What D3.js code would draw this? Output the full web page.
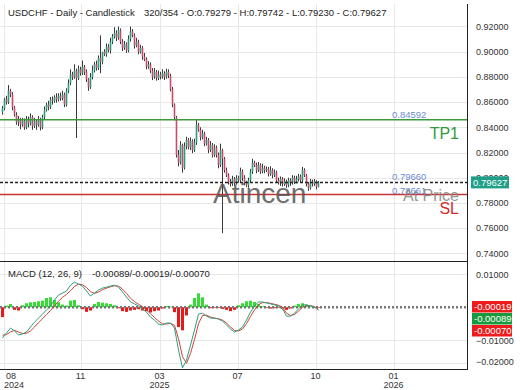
<!DOCTYPE html>
<html>
<head>
<meta charset="UTF-8" />
<title>USDCHF - Daily - Candlestick</title>
<script src="https://d3js.org/d3.v7.min.js"></script>
<style>
  body { margin: 0; background: #fff; }
  svg { display: block; font-family: "Liberation Sans", Arial, sans-serif; }
  .grid line { stroke: #e8e8e8; stroke-width: 1; }
  .yaxis text, .xaxis text { fill: #333; font-size: 9px; }
</style>
</head>
<body>
<script>
// --- dati ---
const titleLeft = "USDCHF - Daily - Candlestick";
const titleRight = "320/354 - O:0.79279 - H:0.79742 - L:0.79230 - C:0.79627";
const macdTitleLeft = "MACD (12, 26, 9)";
const macdTitleRight = "-0.00089/-0.00019/-0.00070";

// candele giornaliere (una ogni barra)
const opens = [
  .8520,.8550,.8620,.8600,.8690,.8660,.8560,.8500,.8440,.8460,
  .8420,.8450,.8400,.8470,.8430,.8480,.8410,.8450,.8420,.8460,
  .8400,.8480,.8540,.8580,.8560,.8620,.8610,.8640,.8620,.8650,
  .8630,.8660,.8580,.8690,.8750,.8820,.8800,.8850,.8790,.8860,
  .8830,.8880,.8840,.8780,.8720,.8800,.8850,.8900,.8870,.8950,
  .8920,.9000,.8980,.9040,.9010,.9080,.9120,.9150,.9110,.9170,
  .9080,.9030,.9060,.9010,.9100,.9160,.9130,.9050,.9080,.9000,
  .9030,.8960,.8940,.8880,.8900,.8850,.8800,.8840,.8790,.8820,
  .8800,.8830,.8800,.8840,.8810,.8700,.8580,.8480,.8180,.8120,
  .8260,.8080,.8250,.8300,.8240,.8290,.8220,.8280,.8420,.8380,
  .8320,.8350,.8270,.8300,.8220,.8260,.8180,.8240,.8180,.8100,
  .8220,.8150,.8060,.8020,.7970,.7950,.7990,.7960,.8000,.7980,
  .8050,.8000,.7960,.7940,.7980,.8050,.8120,.8100,.8060,.8100,
  .8050,.8080,.8060,.8070,.8030,.8060,.8020,.8040,.7980,.7960,
  .7990,.7950,.7970,.7940,.7980,.7960,.8000,.7970,.7990,.8010,
  .7980,.8060,.8020,.7950,.7920,.7970,.7950,.7970,.79279
];
const highs = [
  .8570,.8635,.8650,.8735,.8705,.8680,.8570,.8520,.8490,.8475,
  .8475,.8470,.8490,.8485,.8510,.8495,.8475,.8465,.8490,.8475,
  .8500,.8565,.8595,.8610,.8640,.8645,.8655,.8670,.8670,.8675,
  .8690,.8675,.8710,.8780,.8860,.8840,.8900,.8865,.8890,.8880,
  .8930,.8895,.8860,.8790,.8830,.8890,.8920,.8930,.8970,.9130,
  .8965,.9020,.9065,.9060,.9110,.9140,.9195,.9170,.9200,.9185,
  .9100,.9085,.9075,.9130,.9200,.9180,.9145,.9110,.9095,.9055,
  .9045,.8990,.8955,.8925,.8915,.8870,.8870,.8855,.8850,.8840,
  .8860,.8845,.8865,.8860,.8825,.8720,.8590,.8490,.8220,.8290,
  .8270,.8280,.8325,.8315,.8320,.8305,.8310,.8460,.8435,.8400,
  .8380,.8365,.8325,.8315,.8290,.8275,.8265,.8255,.8200,.8270,
  .8230,.8165,.8080,.8035,.7990,.8015,.8005,.8020,.8015,.8080,
  .8065,.8020,.7975,.8000,.8070,.8150,.8135,.8120,.8125,.8115,
  .8110,.8095,.8090,.8085,.8090,.8075,.8065,.8055,.8000,.8010,
  .8005,.7995,.7985,.8000,.7995,.8020,.8015,.8015,.8030,.8025,
  .8085,.8075,.8030,.7965,.7990,.7985,.7990,.7980,.79742
];
const lows = [
  .8500,.8535,.8580,.8585,.8640,.8535,.8485,.8420,.8410,.8385,
  .8405,.8380,.8385,.8400,.8415,.8380,.8395,.8380,.8405,.8375,
  .8385,.8460,.8525,.8535,.8545,.8580,.8595,.8595,.8605,.8610,
  .8615,.8560,.8565,.8670,.8735,.8775,.8785,.8315,.8775,.8810,
  .8815,.8815,.8760,.8690,.8705,.8780,.8835,.8850,.8855,.8830,
  .8900,.8965,.8960,.8995,.8985,.9060,.9105,.9085,.9095,.9060,
  .9005,.9015,.8990,.8995,.9080,.9115,.9025,.9035,.8980,.8985,
  .8935,.8925,.8860,.8865,.8830,.8775,.8785,.8770,.8775,.8780,
  .8785,.8775,.8785,.8790,.8685,.8560,.8455,.8160,.8090,.8105,
  .8040,.8065,.8225,.8225,.8220,.8195,.8205,.8260,.8365,.8295,
  .8305,.8250,.8255,.8195,.8205,.8160,.8165,.8160,.8075,.8085,
  .7560,.8040,.8005,.7945,.7930,.7935,.7935,.7945,.7960,.7965,
  .7975,.7940,.7925,.7920,.7965,.8030,.8085,.8035,.8045,.8030,
  .8035,.8035,.8045,.8010,.8015,.7995,.8005,.7960,.7945,.7935,
  .7930,.7935,.7920,.7925,.7935,.7945,.7950,.7955,.7970,.7965,
  .7960,.8005,.7930,.7895,.7905,.7930,.7935,.7908,.79230
];
const closes = [
  .8550,.8620,.8600,.8690,.8660,.8560,.8500,.8440,.8460,.8420,
  .8450,.8400,.8470,.8430,.8480,.8410,.8450,.8420,.8460,.8400,
  .8480,.8540,.8580,.8560,.8620,.8610,.8640,.8620,.8650,.8630,
  .8660,.8580,.8690,.8750,.8820,.8800,.8850,.8790,.8860,.8830,
  .8880,.8840,.8780,.8720,.8800,.8850,.8900,.8870,.8950,.8920,
  .9000,.8980,.9040,.9010,.9080,.9120,.9150,.9110,.9170,.9080,
  .9030,.9060,.9010,.9100,.9160,.9130,.9050,.9080,.9000,.9030,
  .8960,.8940,.8880,.8900,.8850,.8800,.8840,.8790,.8820,.8800,
  .8830,.8800,.8840,.8810,.8700,.8580,.8480,.8180,.8120,.8260,
  .8080,.8250,.8300,.8240,.8290,.8220,.8280,.8420,.8380,.8320,
  .8350,.8270,.8300,.8220,.8260,.8180,.8240,.8180,.8100,.8220,
  .8150,.8060,.8020,.7970,.7950,.7990,.7960,.8000,.7980,.8050,
  .8000,.7960,.7940,.7980,.8050,.8120,.8100,.8060,.8100,.8050,
  .8080,.8060,.8070,.8030,.8060,.8020,.8040,.7980,.7960,.7990,
  .7950,.7970,.7940,.7980,.7960,.8000,.7970,.7990,.8010,.7980,
  .8060,.8020,.7950,.7920,.7970,.7950,.7970,.79279,.79627
];

// MACD letto ogni 2 barre
const macdLine = [
  -.0093,-.0078,-.0063,-.0072,-.0084,-.0081,-.0075,-.0060,-.0045,-.0033,
  -.0021,-.0008,.0004,.0022,.0037,.0043,.0049,.0067,.0076,.0070,
  .0064,.0049,.0034,.0043,.0052,.0058,.0061,.0064,.0067,.0061,
  .0046,.0031,.0016,.0010,.0004,-.0005,-.0015,-.0030,-.0039,-.0051,
  -.0054,-.0048,-.0048,-.0063,-.0130,-.0184,-.0160,-.0115,-.0069,-.0021,
  -.0018,-.0027,-.0033,-.0033,-.0036,-.0042,-.0054,-.0066,-.0075,-.0069,
  -.0060,-.0039,-.0015,.0004,.0016,.0016,.0013,.0010,.0007,.0004,
  -.0005,-.0027,-.0027,-.0018,-.0005,.0007,.0007,.0004,.0000,-.00089
];
const signalLine = [
  -.0085,-.0083,-.0075,-.0070,-.0075,-.0080,-.0079,-.0072,-.0060,-.0047,
  -.0035,-.0022,-.0010,.0004,.0018,.0030,.0039,.0050,.0063,.0070,
  .0068,.0060,.0047,.0042,.0046,.0053,.0058,.0062,.0065,.0064,
  .0055,.0042,.0027,.0017,.0009,.0002,-.0008,-.0020,-.0031,-.0042,
  -.0050,-.0051,-.0049,-.0055,-.0095,-.0150,-.0170,-.0140,-.0098,-.0050,
  -.0025,-.0024,-.0030,-.0033,-.0035,-.0039,-.0048,-.0060,-.0070,-.0072,
  -.0066,-.0050,-.0028,-.0008,.0008,.0014,.0014,.0012,.0009,.0006,
  .0000,-.0018,-.0025,-.0022,-.0012,.0000,.0005,.0005,.0002,-.00070
];
const histValues = [
  -.0030,.0005,.0010,-.0008,-.0010,.0006,.0012,.0015,.0016,.0018,
  .0020,.0028,.0030,.0022,.0015,.0008,.0005,.0020,.0022,.0006,
  -.0006,-.0014,-.0010,.0010,.0016,.0014,.0012,.0010,.0006,-.0003,
  -.0012,-.0014,-.0010,-.0008,-.0006,-.0010,-.0012,-.0016,-.0012,-.0010,
  -.0004,.0004,.0002,-.0015,-.0060,-.0070,-.0025,.0008,.0028,.0042,
  .0030,.0008,-.0003,-.0002,-.0002,-.0005,-.0008,-.0012,-.0008,.0006,
  .0012,.0018,.0020,.0016,.0010,.0003,-.0002,-.0004,-.0003,-.0002,
  -.0004,-.0008,-.0004,.0005,.0010,.0012,.0008,.0002,-.0002,-.00019
];

// livelli
const levelNames = ["TP1", "At Price", "SL"];
const levelValues = [0.84592, 0.79660, 0.78661];
const lastPrice = 0.79627;

// assi
const priceTicks = [0.74, 0.76, 0.78, 0.80, 0.82, 0.84, 0.86, 0.88, 0.90, 0.92];
const macdTicks = [0.01, -0.01, -0.02];
const monthBars = [0.5, 39, 78.5, 117.5, 156.5, 195.5];
const monthLabels = ["08", "11", "03", "07", "10", "01"];
const yearLabels = ["2024", "", "2025", "", "", "2026"];
const macdBoxes = ["-0.00019", "-0.00089", "-0.00070"];

// --- disegno ---
const W = 520, H = 390;
const plotR = 467;
const mainTop = 4, mainBottom = 261, macdBottom = 369;
const upColor = "#2a9d7c", downColor = "#c94a6a";

const svg = d3.select("body").append("svg")
  .attr("width", W).attr("height", H);

const x = d3.scaleLinear().domain([0, 158]).range([2.5, 318.5]);
const yMain = d3.scaleLinear().domain([0.74, 0.94]).range([253.3, 1.3]);
const yMacd = d3.scaleLinear().domain([0.0125, -0.017]).range([266, 363.3]);
const yMacdAxis = yMacd.copy().clamp(true);
const fmt = d3.format(".5f");

svg.append("defs").append("clipPath").attr("id", "clipMain")
  .append("rect").attr("x", 0).attr("y", mainTop).attr("width", plotR).attr("height", mainBottom - mainTop);
svg.select("defs").append("clipPath").attr("id", "clipMacd")
  .append("rect").attr("x", 0).attr("y", mainBottom).attr("width", plotR).attr("height", macdBottom - mainBottom);

// griglia
const grid = svg.append("g").attr("class", "grid");
grid.selectAll("line.gx").data(monthBars).enter().append("line")
  .attr("x1", d => Math.round(x(d)) + 0.5).attr("x2", d => Math.round(x(d)) + 0.5)
  .attr("y1", mainTop).attr("y2", macdBottom);
grid.selectAll("line.gy").data(priceTicks).enter().append("line")
  .attr("x1", 0).attr("x2", plotR)
  .attr("y1", d => Math.round(yMain(d)) + 0.5).attr("y2", d => Math.round(yMain(d)) + 0.5);
grid.selectAll("line.gm").data(macdTicks).enter().append("line")
  .attr("x1", 0).attr("x2", plotR)
  .attr("y1", d => Math.round(yMacdAxis(d)) + 0.5).attr("y2", d => Math.round(yMacdAxis(d)) + 0.5);

// candele
const main = svg.append("g").attr("clip-path", "url(#clipMain)");
const bars = main.selectAll("g.candle").data(d3.range(closes.length)).enter()
  .append("g").attr("class", "candle");
bars.append("line")
  .attr("x1", i => x(i)).attr("x2", i => x(i))
  .attr("y1", i => yMain(highs[i])).attr("y2", i => yMain(lows[i]))
  .attr("stroke", "#3a3a3a").attr("stroke-width", 1);
bars.append("rect")
  .attr("x", i => x(i) - 0.8).attr("width", 1.6)
  .attr("y", i => yMain(Math.max(opens[i], closes[i])))
  .attr("height", i => Math.max(1, Math.abs(yMain(opens[i]) - yMain(closes[i]))))
  .attr("fill", i => closes[i] >= opens[i] ? upColor : downColor);

// watermark
svg.append("text")
  .attr("x", 213).attr("y", 203)
  .style("font-size", "28px").style("fill", "#555").style("opacity", 0.85)
  .text("Atincen");

// linee livello
main.append("line")
  .attr("x1", 0).attr("x2", plotR)
  .attr("y1", yMain(levelValues[0])).attr("y2", yMain(levelValues[0]))
  .attr("stroke", "#3c9a3c").attr("stroke-width", 1.5);
main.append("line")
  .attr("x1", 0).attr("x2", plotR)
  .attr("y1", yMain(levelValues[2])).attr("y2", yMain(levelValues[2]))
  .attr("stroke", "#c83232").attr("stroke-width", 1.5);
main.append("line")
  .attr("x1", 0).attr("x2", plotR)
  .attr("y1", yMain(lastPrice)).attr("y2", yMain(lastPrice))
  .attr("stroke", "#222").attr("stroke-width", 1.5).attr("stroke-dasharray", "3,2");

// etichette livelli
const lvl = svg.append("g").style("font-size", "9.5px").style("fill", "#6b8cd6");
lvl.append("text").attr("x", 392).attr("y", yMain(levelValues[0]) - 1.5).text(fmt(levelValues[0]));
lvl.append("text").attr("x", 392).attr("y", yMain(levelValues[1]) - 2).text(fmt(levelValues[1]));
lvl.append("text").attr("x", 392).attr("y", yMain(levelValues[2]) - 1).text(fmt(levelValues[2]));

svg.append("text").attr("x", 459).attr("y", 139).attr("text-anchor", "end")
  .style("font-size", "16px").style("fill", "#2e9a3a").text(levelNames[0]);
svg.append("text").attr("x", 459).attr("y", 201).attr("text-anchor", "end")
  .style("font-size", "16px").style("fill", "#8a8a8a").style("opacity", 0.9).text(levelNames[1]);
svg.append("text").attr("x", 459).attr("y", 214).attr("text-anchor", "end")
  .style("font-size", "16px").style("fill", "#d42a2a").text(levelNames[2]);

// MACD
const mp = svg.append("g").attr("clip-path", "url(#clipMacd)");
const macdIdx = d3.range(0, closes.length, 2);
mp.selectAll("rect.hist").data(histValues).enter().append("rect")
  .attr("x", (d, k) => x(macdIdx[k]) - 1.5).attr("width", 3)
  .attr("y", d => Math.min(yMacd(0), yMacd(d)))
  .attr("height", d => Math.abs(yMacd(d) - yMacd(0)))
  .attr("fill", d => d >= 0 ? "#33dd33" : "#e41b1b");
mp.append("line")
  .attr("x1", 0).attr("x2", plotR)
  .attr("y1", yMacd(0)).attr("y2", yMacd(0))
  .attr("stroke", "#777").attr("stroke-width", 2.5).attr("stroke-dasharray", "2,2");
const ln = d3.line().x((d, k) => x(macdIdx[k])).y(d => yMacd(d));
mp.append("path").datum(signalLine).attr("d", ln)
  .attr("fill", "none").attr("stroke", "#cc4433").attr("stroke-width", 1);
mp.append("path").datum(macdLine).attr("d", ln)
  .attr("fill", "none").attr("stroke", "#2f9e7e").attr("stroke-width", 1);

// bordi
svg.append("line").attr("x1", 0).attr("x2", plotR).attr("y1", mainBottom + 0.5).attr("y2", mainBottom + 0.5)
  .attr("stroke", "#222");
svg.append("line").attr("x1", 0).attr("x2", plotR).attr("y1", macdBottom + 0.5).attr("y2", macdBottom + 0.5)
  .attr("stroke", "#222");
svg.append("line").attr("x1", plotR + 0.5).attr("x2", plotR + 0.5).attr("y1", mainTop).attr("y2", macdBottom + 1)
  .attr("stroke", "#222");

// asse prezzi
svg.append("g").attr("class", "yaxis")
  .attr("transform", `translate(${plotR + 9},0)`)
  .call(d3.axisRight(yMain).tickValues(priceTicks).tickSize(0).tickPadding(0).tickFormat(fmt))
  .call(g => g.select(".domain").remove());
svg.append("g").attr("class", "yaxis")
  .attr("transform", `translate(${plotR + 9},0)`)
  .call(d3.axisRight(yMacdAxis).tickValues(macdTicks).tickSize(0).tickPadding(0).tickFormat(fmt))
  .call(g => g.select(".domain").remove())
  .selectAll("text").attr("dy", (d) => d < -0.015 ? "0.15em" : "0.32em");

// box prezzo corrente
svg.append("rect").attr("x", 471).attr("y", yMain(lastPrice) - 6).attr("width", 38).attr("height", 12)
  .attr("fill", "#1f9e88");
svg.append("text").attr("x", 473).attr("y", yMain(lastPrice) + 3.5)
  .style("font-size", "9.5px").style("fill", "#fff").text(fmt(lastPrice));

// box MACD
const boxColors = ["#ee1c1c", "#1a9a3c", "#ee1c1c"];
macdBoxes.forEach((t, k) => {
  svg.append("rect").attr("x", 472).attr("y", 301 + k * 12).attr("width", 40).attr("height", 11.5)
    .attr("fill", boxColors[k]);
  svg.append("text").attr("x", 474).attr("y", 310 + k * 12)
    .style("font-size", "9.5px").style("fill", "#fff").text(t);
});

// asse tempo
const xa = svg.append("g").attr("class", "xaxis");
monthBars.forEach((b, k) => {
  const px = Math.max(x(b), 11);
  xa.append("text").attr("x", px).attr("y", 379).attr("text-anchor", "middle").text(monthLabels[k]);
  if (yearLabels[k]) {
    xa.append("text").attr("x", Math.max(x(b), 14)).attr("y", 387.5).attr("text-anchor", "middle").text(yearLabels[k]);
  }
});

// titoli
const tt = svg.append("g").style("font-size", "9.5px").style("fill", "#222");
tt.append("text").attr("x", 8).attr("y", 16).text(titleLeft);
tt.append("text").attr("x", 144).attr("y", 16).text(titleRight);
tt.append("text").attr("x", 8).attr("y", 277).text(macdTitleLeft);
tt.append("text").attr("x", 92).attr("y", 277).text(macdTitleRight);
</script>
</body>
</html>
